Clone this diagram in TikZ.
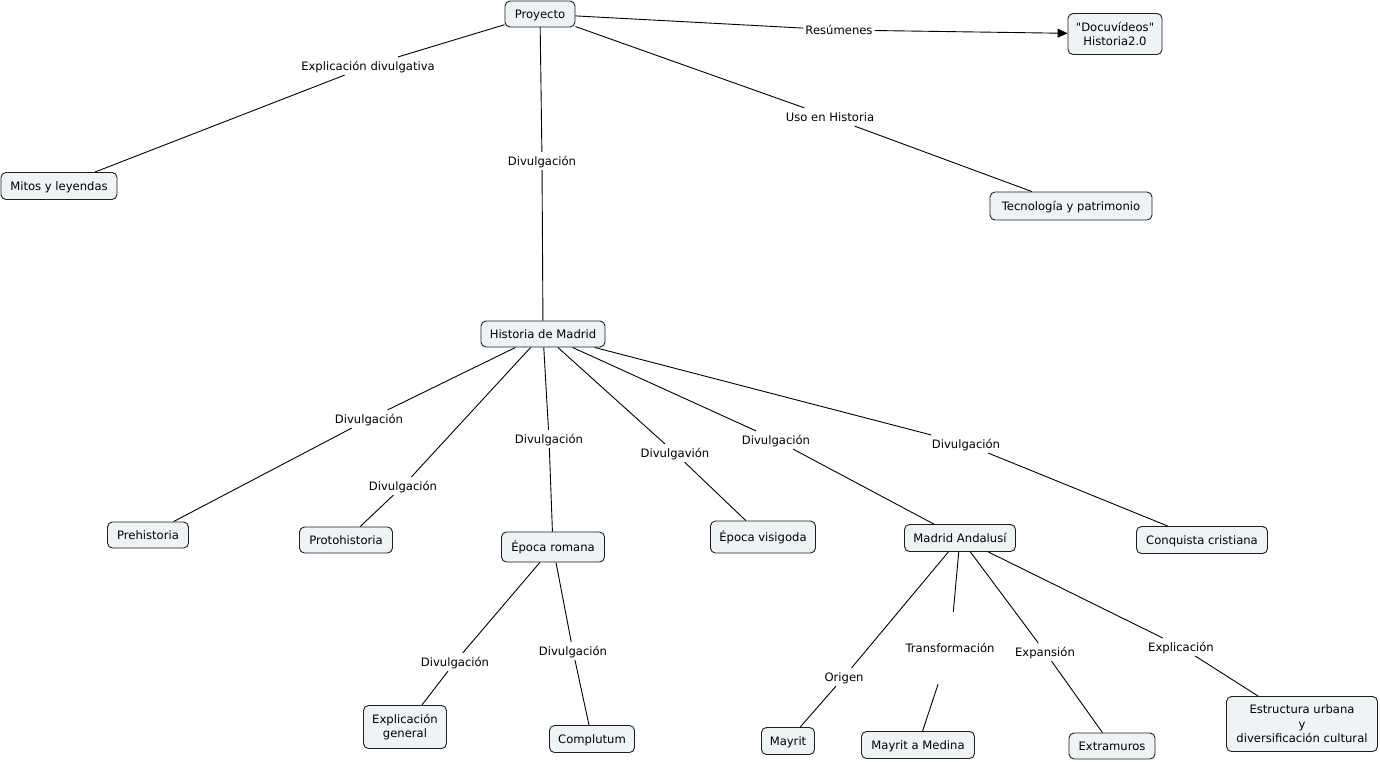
\documentclass[tikz,border=0pt]{standalone}
\usepackage{fontspec}
\setmainfont{DejaVu Sans}
\usetikzlibrary{arrows.meta}
\definecolor{cfill}{RGB}{238,244,246}
\definecolor{cborder}{RGB}{30,30,30}
\begin{document}
\begin{tikzpicture}[x=1pt,y=-1pt,
  every node/.style={font=\fontsize{11.6}{14.5}\selectfont, align=center, text height=10.4pt, text depth=1.4pt},
  multi/.style={text height=, text depth=},
  concept/.style={draw=cborder, fill=cfill, rounded corners=5pt, line width=0.9pt, inner sep=0pt},
  lbl/.style={inner xsep=2pt, inner ysep=3pt},
  conn/.style={line width=0.9pt, black}]
\useasboundingbox (0,0) rectangle (1380,761);
% concepts
\node[concept, minimum width=70pt, minimum height=26pt] (proy) at (540,14) {Proyecto};
\node[concept, multi, minimum width=94pt, minimum height=41pt] (docu) at (1115,34) {\textquotedbl Docuvídeos\textquotedbl\\Historia2.0};
\node[concept, minimum width=116pt, minimum height=27pt] (mitos) at (59,186) {Mitos y leyendas};
\node[concept, minimum width=162pt, minimum height=28pt] (tecno) at (1071,206) {Tecnología y patrimonio};
\node[concept, minimum width=124pt, minimum height=26pt] (hdm) at (543,334) {Historia de Madrid};
\node[concept, minimum width=81pt, minimum height=26pt] (pre) at (148,535) {Prehistoria};
\node[concept, minimum width=93pt, minimum height=26pt] (proto) at (346,540) {Protohistoria};
\node[concept, minimum width=103pt, minimum height=30pt] (rom) at (553,547) {Época romana};
\node[concept, minimum width=105pt, minimum height=32pt] (visi) at (763,537) {Época visigoda};
\node[concept, minimum width=111pt, minimum height=27pt] (anda) at (960,538) {Madrid Andalusí};
\node[concept, minimum width=131pt, minimum height=27pt] (conq) at (1202,540) {Conquista cristiana};
\node[concept, multi, minimum width=83pt, minimum height=43pt] (expg) at (405,727) {Explicación\\general};
\node[concept, minimum width=85pt, minimum height=27pt] (compl) at (592,739) {Complutum};
\node[concept, minimum width=53pt, minimum height=27pt] (mayrit) at (788,741) {Mayrit};
\node[concept, minimum width=113pt, minimum height=27pt] (mam) at (918,745) {Mayrit a Medina};
\node[concept, minimum width=86pt, minimum height=26pt] (extra) at (1112,746) {Extramuros};
\node[concept, multi, minimum width=151pt, minimum height=55pt] (estr) at (1302,724) {Estructura urbana\\y\\diversificación cultural};
% link labels
\node[lbl] (l1) at (368,66) {Explicación divulgativa};
\node[lbl] (l2) at (839,30) {Resúmenes};
\node[lbl] (l3) at (542,161) {Divulgación};
\node[lbl] (l4) at (830,117) {Uso en Historia};
\node[lbl] (l5) at (369,419) {Divulgación};
\node[lbl] (l6) at (403,486) {Divulgación};
\node[lbl] (l7) at (549,439) {Divulgación};
\node[lbl] (l8) at (675,453) {Divulgavión};
\node[lbl] (l9) at (776,440) {Divulgación};
\node[lbl] (l10) at (966,444) {Divulgación};
\node[lbl] (l11) at (455,662) {Divulgación};
\node[lbl] (l12) at (573,651) {Divulgación};
\node[lbl] (l13) at (844,677) {Origen};
\node[lbl, minimum height=72pt] (l14) at (950,648) {Transformación};
\node[lbl] (l15) at (1045,652) {Expansión};
\node[lbl] (l16) at (1181,647) {Explicación};
% connectors
\draw[conn] (proy) -- (l1); \draw[conn] (l1) -- (mitos);
\draw[conn] (proy) -- (l2); \draw[conn, -{Triangle[length=10pt,width=9pt]}] (l2) -- (docu);
\draw[conn] (proy) -- (l3); \draw[conn] (l3) -- (hdm);
\draw[conn] (proy) -- (l4); \draw[conn] (l4) -- (tecno);
\draw[conn] (hdm) -- (l5); \draw[conn] (l5) -- (pre);
\draw[conn] (hdm) -- (l6); \draw[conn] (l6) -- (proto);
\draw[conn] (hdm) -- (l7); \draw[conn] (l7) -- (rom);
\draw[conn] (hdm) -- (l8); \draw[conn] (l8) -- (visi);
\draw[conn] (hdm) -- (l9); \draw[conn] (l9) -- (anda);
\draw[conn] (hdm) -- (l10); \draw[conn] (l10) -- (conq);
\draw[conn] (rom) -- (l11); \draw[conn] (l11) -- (expg);
\draw[conn] (rom) -- (l12); \draw[conn] (l12) -- (compl);
\draw[conn] (anda) -- (l13); \draw[conn] (l13) -- (mayrit);
\draw[conn] (anda) -- (l14); \draw[conn] (l14) -- (mam);
\draw[conn] (anda) -- (l15); \draw[conn] (l15) -- (extra);
\draw[conn] (anda) -- (l16); \draw[conn] (l16) -- (estr);
\end{tikzpicture}
\end{document}
